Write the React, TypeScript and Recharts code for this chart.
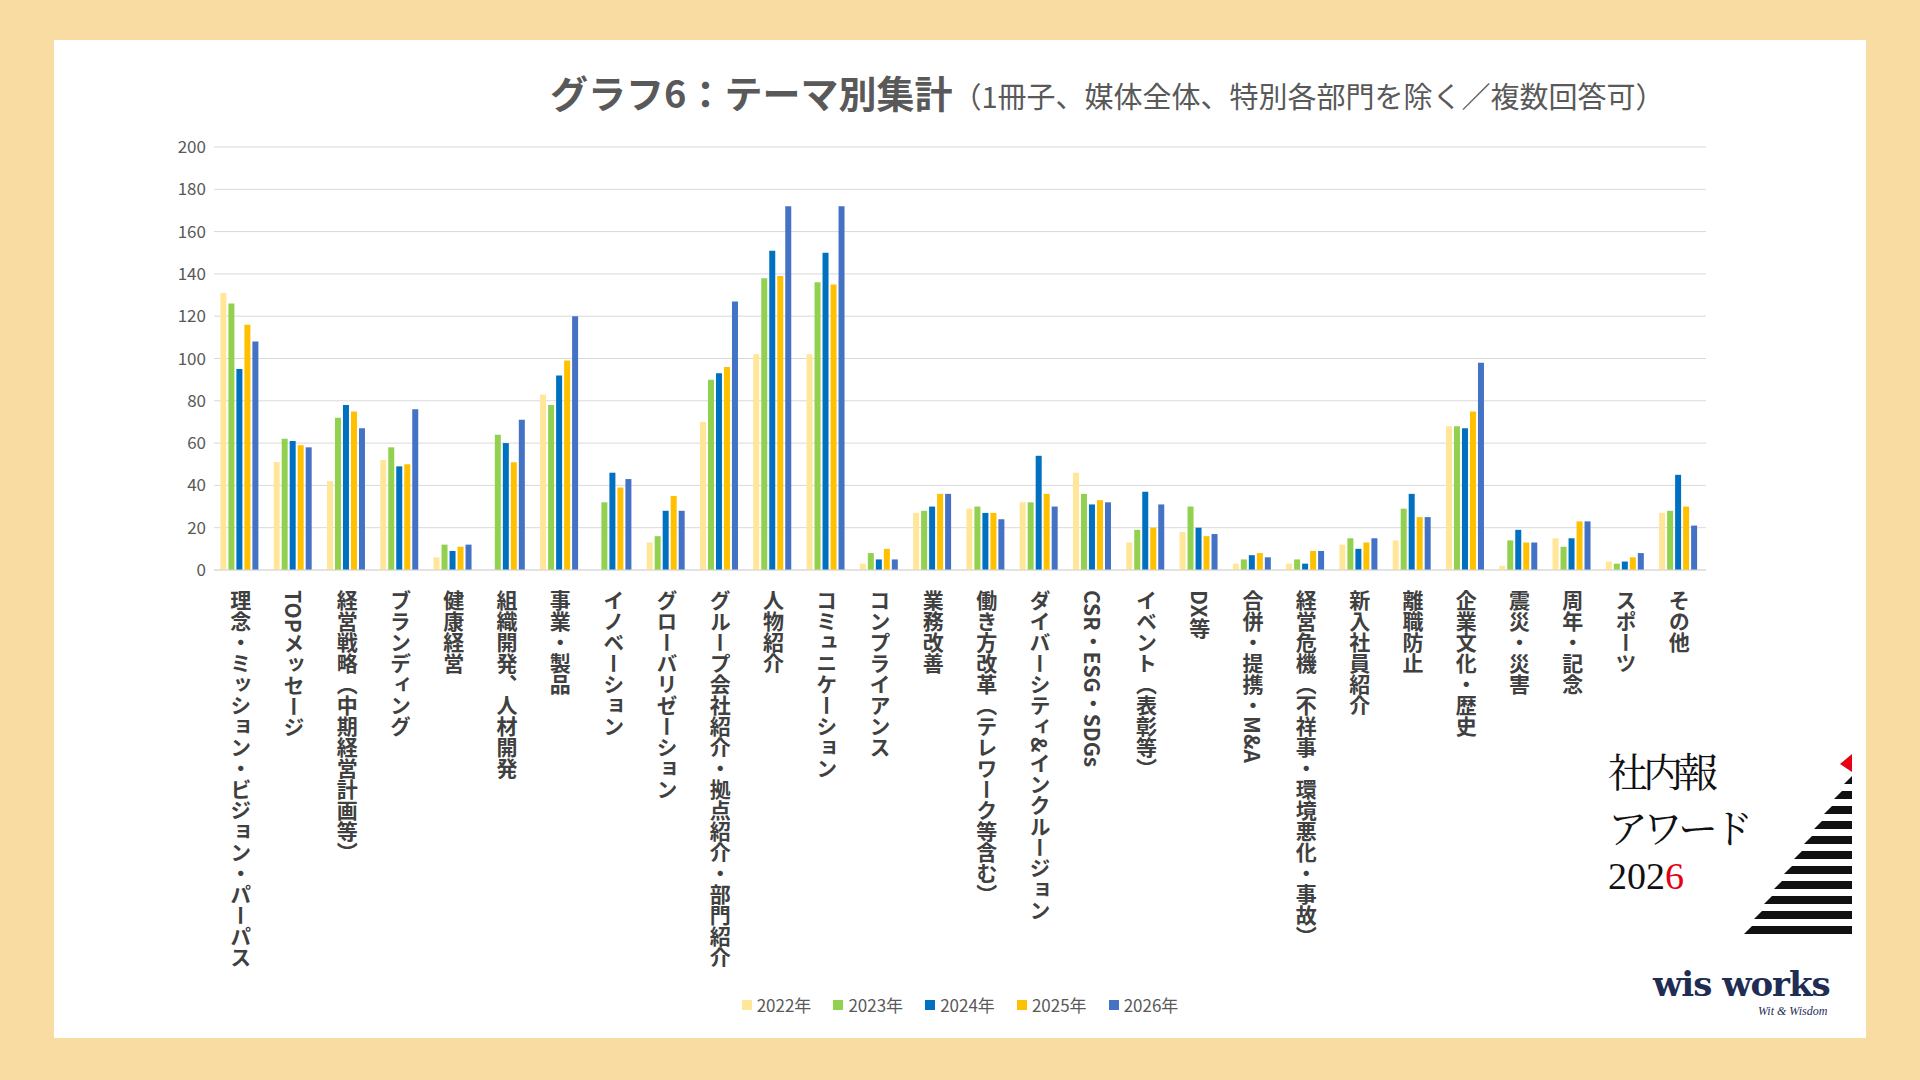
import { Bar, BarChart, CartesianGrid, Legend, XAxis, YAxis } from "recharts";

const categories = [
  "理念・ミッション・ビジョン・パーパス",
  "TOPメッセージ",
  "経営戦略（中期経営計画等）",
  "ブランディング",
  "健康経営",
  "組織開発、人材開発",
  "事業・製品",
  "イノベーション",
  "グローバリゼーション",
  "グループ会社紹介・拠点紹介・部門紹介",
  "人物紹介",
  "コミュニケーション",
  "コンプライアンス",
  "業務改善",
  "働き方改革（テレワーク等含む）",
  "ダイバーシティ&インクルージョン",
  "CSR・ESG・SDGs",
  "イベント（表彰等）",
  "DX等",
  "合併・提携・M&A",
  "経営危機（不祥事・環境悪化・事故）",
  "新入社員紹介",
  "離職防止",
  "企業文化・歴史",
  "震災・災害",
  "周年・記念",
  "スポーツ",
  "その他",
];

const y2022 = [131, 51, 42, 52, 6, 0, 83, 0, 13, 70, 102, 102, 3, 27, 29, 32, 46, 13, 18, 3, 3, 12, 14, 68, 2, 15, 4, 27];
const y2023 = [126, 62, 72, 58, 12, 64, 78, 32, 16, 90, 138, 136, 8, 28, 30, 32, 36, 19, 30, 5, 5, 15, 29, 68, 14, 11, 3, 28];
const y2024 = [95, 61, 78, 49, 9, 60, 92, 46, 28, 93, 151, 150, 5, 30, 27, 54, 31, 37, 20, 7, 3, 10, 36, 67, 19, 15, 4, 45];
const y2025 = [116, 59, 75, 50, 11, 51, 99, 39, 35, 96, 139, 135, 10, 36, 27, 36, 33, 20, 16, 8, 9, 13, 25, 75, 13, 23, 6, 30];
const y2026 = [108, 58, 67, 76, 12, 71, 120, 43, 28, 127, 172, 172, 5, 36, 24, 30, 32, 31, 17, 6, 9, 15, 25, 98, 13, 23, 8, 21];

const years = ["2022年", "2023年", "2024年", "2025年", "2026年"];
const colors = ["#FFE699", "#92D050", "#0070C0", "#FFC000", "#4472C4"];
const yTicks = [0, 20, 40, 60, 80, 100, 120, 140, 160, 180, 200];

const series = [y2022, y2023, y2024, y2025, y2026];
const data = categories.map((name, i) => {
  const row: Record<string, string | number> = { name };
  years.forEach((y, k) => (row[y] = series[k][i]));
  return row;
});

const font = "'Noto Sans CJK JP', 'Noto Sans', sans-serif";

function VerticalTick(props: any) {
  const { x, y, payload } = props;
  return (
    <text
      x={x}
      y={y + 12}
      fill="#404040"
      fontSize={21}
      fontWeight={700}
      fontFamily={font}
      style={{ writingMode: "vertical-rl" } as any}
      textAnchor="start"
    >
      {payload.value}
    </text>
  );
}

function LegendContent() {
  return (
    <div style={{ display: "flex", justifyContent: "center", gap: 22, fontFamily: font, fontSize: 17, color: "#595959" }}>
      {years.map((y, k) => (
        <div key={y} style={{ display: "flex", alignItems: "center", gap: 5 }}>
          <span style={{ width: 10, height: 10, background: colors[k], display: "inline-block" }} />
          {y}
        </div>
      ))}
    </div>
  );
}

function Logo() {
  const stripes = Array.from({ length: 11 }, (_, i) => i);
  return (
    <div style={{ position: "absolute", left: 1608, top: 742, width: 250, height: 280, fontFamily: font }}>
      <div style={{ fontSize: 40, lineHeight: "56px", letterSpacing: -5, color: "#111", fontFamily: "'Noto Serif CJK JP', 'Noto Sans CJK JP', serif" }}>
        社内報
        <br />
        アワード
      </div>
      <div style={{ fontSize: 38, color: "#111", fontFamily: "'Liberation Serif', serif" }}>
        202<span style={{ color: "#e60012" }}>6</span>
      </div>
      <svg style={{ position: "absolute", left: 114, top: 12 }} width="135" height="200">
        <polygon points="118,10 130,0 130,18" fill="#e60012" />
        {stripes.map((i) => (
          <polygon
            key={i}
            points={`${130 - i * 10},${22 + i * 15} 130,${22 + i * 15} 130,${30 + i * 15} ${122 - i * 10},${30 + i * 15}`}
            fill="#111"
          />
        ))}
      </svg>
      <div style={{ position: "absolute", left: 45, top: 222, fontSize: 34, fontWeight: 900, color: "#1f2d55", fontFamily: "'DejaVu Serif', serif", letterSpacing: -1 }}>
        wis works
      </div>
      <div style={{ position: "absolute", left: 150, top: 262, fontSize: 12, fontStyle: "italic", color: "#1f2d55", fontFamily: "'Liberation Serif', serif" }}>
        Wit &amp; Wisdom
      </div>
    </div>
  );
}

export default function App() {
  return (
    <div style={{ position: "absolute", left: 0, top: 0, width: 1920, height: 1080, background: "#F8DCA2", overflow: "hidden" }}>
      <div style={{ position: "absolute", left: 54, top: 40, width: 1812, height: 998, background: "#fff" }} />
      <div style={{ position: "absolute", left: 550, top: 64, fontFamily: font, color: "#595959", whiteSpace: "nowrap" }}>
        <span style={{ fontSize: 38, fontWeight: 700 }}>グラフ6：テーマ別集計</span>
        <span style={{ fontSize: 29 }}>（1冊子、媒体全体、特別各部門を除く／複数回答可）</span>
      </div>
      <div style={{ position: "absolute", left: 0, top: 0 }}>
        <BarChart
          width={1920}
          height={1080}
          data={data}
          margin={{ top: 147, left: 150, right: 214, bottom: 445 }}
          barCategoryGap="12%"
          barGap={2}
        >
          <CartesianGrid vertical={false} stroke="#d9d9d9" />
          <XAxis
            dataKey="name"
            interval={0}
            tickLine={false}
            axisLine={{ stroke: "#d9d9d9" }}
            tick={<VerticalTick />}
            height={40}
          />
          <YAxis
            width={64}
            domain={[0, 200]}
            ticks={yTicks}
            axisLine={false}
            tickLine={false}
            tick={{ fill: "#595959", fontSize: 17, fontFamily: font }}
          />
          <Legend content={<LegendContent />} wrapperStyle={{ position: "absolute", top: 992, left: 0, width: 1920 }} />
          {years.map((y, k) => (
            <Bar key={y} dataKey={y} fill={colors[k]} isAnimationActive={false} />
          ))}
        </BarChart>
      </div>
      <Logo />
    </div>
  );
}
